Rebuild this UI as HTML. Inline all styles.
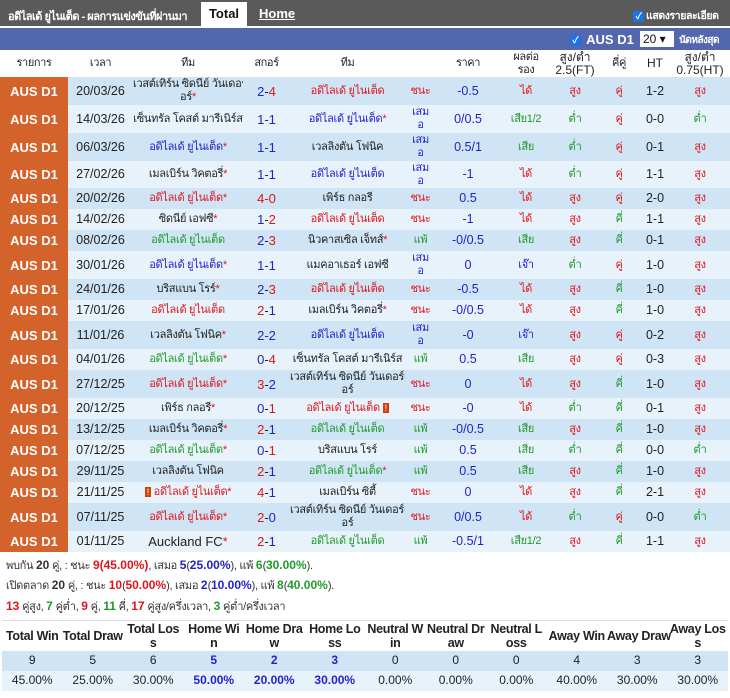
<!DOCTYPE html>
<html><head><meta charset="utf-8"><style>
*{margin:0;padding:0;box-sizing:border-box}
body{width:730px;height:698px;background:#fff;font-family:"Liberation Sans","Noto Sans CJK SC",sans-serif;font-size:12px;position:relative;overflow:hidden;color:#222}
.th{font-size:11px;letter-spacing:-0.4px}
.top{position:absolute;left:0;top:0;width:730px;height:26px;background:#5a5a5a;color:#fff}
.top .t{position:absolute;left:8px;top:7px;font-size:11px;font-weight:bold;letter-spacing:-0.5px;white-space:nowrap}
.tab{position:absolute;left:201px;top:2px;width:46px;height:24px;background:#fff;color:#111;font-weight:bold;font-size:13px;text-align:center;line-height:24px}
.home{position:absolute;left:259px;top:6px;font-weight:bold;font-size:13px;text-decoration:underline;color:#fff}
.chk{display:inline-block;width:11px;height:11px;background:#1a73e8;border-radius:2px;color:#fff;font-size:9px;line-height:11px;text-align:center;vertical-align:middle;margin-right:2px}
.blue{position:absolute;left:0;top:28px;width:730px;height:22px;background:#5367af;color:#fff}
table{position:absolute;left:0;top:50px;width:730px;border-collapse:collapse;table-layout:fixed}
td,th{text-align:center;padding:0;font-weight:normal;line-height:13px;overflow:hidden;white-space:nowrap}
th{height:27px;background:#fff;font-size:12px;color:#222}
td{font-size:11px;letter-spacing:-0.3px}
td.l{background:#d3632b;color:#fff;font-weight:bold;font-size:13px;letter-spacing:0}
tr.a td{background:#cfe4f4}
tr.b td{background:#e8f2fa}
tr.a td.l,tr.b td.l{background:#d3632b}
.r{color:#e0151b}.u{color:#2222cc}.g{color:#1f9a2a}
.s{font-size:13px;letter-spacing:0}
.n{font-size:12.5px;letter-spacing:0}
.lines{position:absolute;left:6px;font-size:11px;color:#333;white-space:nowrap;letter-spacing:-0.3px}
.lines b{font-weight:bold;font-size:12px;letter-spacing:0}
table.st{top:620px;left:2px;width:726px}
table.st th{height:30px;font-weight:bold;font-size:12.5px;line-height:14px;background:#fff;color:#222;border-top:1px solid #ddd;letter-spacing:-0.3px;overflow:visible}
table.st td{height:20px;font-size:12px;letter-spacing:0}
</style></head><body>
<div class="top"><span class="t">อดิไลเด้ ยูไนเต็ด - ผลการแข่งขันที่ผ่านมา</span><div class="tab">Total</div><span class="home">Home</span>
<span style="position:absolute;left:633px;top:7px;font-size:10.5px;font-weight:bold;white-space:nowrap;letter-spacing:-0.4px"><span class="chk">✓</span>แสดงรายละเอียด</span></div>
<div class="blue"><span style="position:absolute;left:570px;top:4px;font-weight:bold;font-size:13px;white-space:nowrap"><span class="chk">✓</span> AUS D1</span>
<span style="position:absolute;left:640px;top:3px;width:34px;height:16px;background:#fff;color:#111;font-size:12px;line-height:16px;padding-left:3px">20 ▾</span>
<span style="position:absolute;left:679px;top:5px;font-size:10px;font-weight:bold;white-space:nowrap;letter-spacing:-0.5px">นัดหลังสุด</span></div>
<table>
<colgroup><col style="width:68px"><col style="width:65px"><col style="width:110px"><col style="width:47px"><col style="width:115px"><col style="width:31px"><col style="width:64px"><col style="width:52px"><col style="width:46px"><col style="width:42px"><col style="width:30px"><col style="width:60px"></colgroup>
<tr><th class="th">รายการ</th><th class="th">เวลา</th><th class="th">ทีม</th><th class="th">สกอร์</th><th class="th">ทีม</th><th></th><th class="th">ราคา</th><th class="th">ผลต่อ<br>รอง</th><th>สูง/ต่ำ<br>2.5(FT)</th><th class="th">คี่คู่</th><th>HT</th><th>สูง/ต่ำ<br>0.75(HT)</th></tr>
<tr class="a" style="height:28px"><td class="l">AUS D1</td><td class="n">20/03/26</td><td>เวสต์เทิร์น ซิดนีย์ วันเดอร์เร<br>อร์<span class="r">*</span></td><td class="s"><span class="u">2</span>-<span class="r">4</span></td><td class="r">อดิไลเด้ ยูไนเต็ด</td><td class="r">ชนะ</td><td class="u n">-0.5</td><td class="r">ได้</td><td class="r">สูง</td><td class="r">คู่</td><td class="n">1-2</td><td class="r">สูง</td></tr>
<tr class="b" style="height:28px"><td class="l">AUS D1</td><td class="n">14/03/26</td><td>เซ็นทรัล โคสต์ มารีเนิร์ส</td><td class="s u">1-1</td><td class="u">อดิไลเด้ ยูไนเต็ด<span class="r">*</span></td><td class="u">เสม<br>อ</td><td class="u n">0/0.5</td><td class="g">เสีย1/2</td><td class="g">ต่ำ</td><td class="r">คู่</td><td class="n">0-0</td><td class="g">ต่ำ</td></tr>
<tr class="a" style="height:28px"><td class="l">AUS D1</td><td class="n">06/03/26</td><td class="u">อดิไลเด้ ยูไนเต็ด<span class="r">*</span></td><td class="s u">1-1</td><td>เวลลิงตัน โฟนิค</td><td class="u">เสม<br>อ</td><td class="u n">0.5/1</td><td class="g">เสีย</td><td class="g">ต่ำ</td><td class="r">คู่</td><td class="n">0-1</td><td class="r">สูง</td></tr>
<tr class="b" style="height:27px"><td class="l">AUS D1</td><td class="n">27/02/26</td><td>เมลเบิร์น วิคตอรี่<span class="r">*</span></td><td class="s u">1-1</td><td class="u">อดิไลเด้ ยูไนเต็ด</td><td class="u">เสม<br>อ</td><td class="u n">-1</td><td class="r">ได้</td><td class="g">ต่ำ</td><td class="r">คู่</td><td class="n">1-1</td><td class="r">สูง</td></tr>
<tr class="a" style="height:21px"><td class="l">AUS D1</td><td class="n">20/02/26</td><td class="r">อดิไลเด้ ยูไนเต็ด*</td><td class="s r">4-0</td><td>เพิร์ธ กลอรี</td><td class="r">ชนะ</td><td class="u n">0.5</td><td class="r">ได้</td><td class="r">สูง</td><td class="r">คู่</td><td class="n">2-0</td><td class="r">สูง</td></tr>
<tr class="b" style="height:21px"><td class="l">AUS D1</td><td class="n">14/02/26</td><td>ซิดนีย์ เอฟซี<span class="r">*</span></td><td class="s"><span class="u">1</span>-<span class="r">2</span></td><td class="r">อดิไลเด้ ยูไนเต็ด</td><td class="r">ชนะ</td><td class="u n">-1</td><td class="r">ได้</td><td class="r">สูง</td><td class="g">คี่</td><td class="n">1-1</td><td class="r">สูง</td></tr>
<tr class="a" style="height:21px"><td class="l">AUS D1</td><td class="n">08/02/26</td><td class="g">อดิไลเด้ ยูไนเต็ด</td><td class="s"><span class="u">2</span>-<span class="r">3</span></td><td>นิวคาสเซิล เจ็ทส์<span class="r">*</span></td><td class="g">แพ้</td><td class="u n">-0/0.5</td><td class="g">เสีย</td><td class="r">สูง</td><td class="g">คี่</td><td class="n">0-1</td><td class="r">สูง</td></tr>
<tr class="b" style="height:28px"><td class="l">AUS D1</td><td class="n">30/01/26</td><td class="u">อดิไลเด้ ยูไนเต็ด<span class="r">*</span></td><td class="s u">1-1</td><td>แมคอาเธอร์ เอฟซี</td><td class="u">เสม<br>อ</td><td class="u n">0</td><td class="u">เจ๊า</td><td class="g">ต่ำ</td><td class="r">คู่</td><td class="n">1-0</td><td class="r">สูง</td></tr>
<tr class="a" style="height:21px"><td class="l">AUS D1</td><td class="n">24/01/26</td><td>บริสแบน โรร์<span class="r">*</span></td><td class="s"><span class="u">2</span>-<span class="r">3</span></td><td class="r">อดิไลเด้ ยูไนเต็ด</td><td class="r">ชนะ</td><td class="u n">-0.5</td><td class="r">ได้</td><td class="r">สูง</td><td class="g">คี่</td><td class="n">1-0</td><td class="r">สูง</td></tr>
<tr class="b" style="height:21px"><td class="l">AUS D1</td><td class="n">17/01/26</td><td class="r">อดิไลเด้ ยูไนเต็ด</td><td class="s"><span class="r">2</span>-<span class="u">1</span></td><td>เมลเบิร์น วิคตอรี่<span class="r">*</span></td><td class="r">ชนะ</td><td class="u n">-0/0.5</td><td class="r">ได้</td><td class="r">สูง</td><td class="g">คี่</td><td class="n">1-0</td><td class="r">สูง</td></tr>
<tr class="a" style="height:28px"><td class="l">AUS D1</td><td class="n">11/01/26</td><td>เวลลิงตัน โฟนิค<span class="r">*</span></td><td class="s u">2-2</td><td class="u">อดิไลเด้ ยูไนเต็ด</td><td class="u">เสม<br>อ</td><td class="u n">-0</td><td class="u">เจ๊า</td><td class="r">สูง</td><td class="r">คู่</td><td class="n">0-2</td><td class="r">สูง</td></tr>
<tr class="b" style="height:21px"><td class="l">AUS D1</td><td class="n">04/01/26</td><td class="g">อดิไลเด้ ยูไนเต็ด<span class="r">*</span></td><td class="s"><span class="u">0</span>-<span class="r">4</span></td><td>เซ็นทรัล โคสต์ มารีเนิร์ส</td><td class="g">แพ้</td><td class="u n">0.5</td><td class="g">เสีย</td><td class="r">สูง</td><td class="r">คู่</td><td class="n">0-3</td><td class="r">สูง</td></tr>
<tr class="a" style="height:28px"><td class="l">AUS D1</td><td class="n">27/12/25</td><td class="r">อดิไลเด้ ยูไนเต็ด*</td><td class="s"><span class="r">3</span>-<span class="u">2</span></td><td>เวสต์เทิร์น ซิดนีย์ วันเดอร์เร<br>อร์</td><td class="r">ชนะ</td><td class="u n">0</td><td class="r">ได้</td><td class="r">สูง</td><td class="g">คี่</td><td class="n">1-0</td><td class="r">สูง</td></tr>
<tr class="b" style="height:21px"><td class="l">AUS D1</td><td class="n">20/12/25</td><td>เพิร์ธ กลอรี<span class="r">*</span></td><td class="s"><span class="u">0</span>-<span class="r">1</span></td><td class="r">อดิไลเด้ ยูไนเต็ด <span style="background:#d0400a;color:#fff;font-size:9px;padding:0 2px">!</span></td><td class="r">ชนะ</td><td class="u n">-0</td><td class="r">ได้</td><td class="g">ต่ำ</td><td class="g">คี่</td><td class="n">0-1</td><td class="r">สูง</td></tr>
<tr class="a" style="height:21px"><td class="l">AUS D1</td><td class="n">13/12/25</td><td>เมลเบิร์น วิคตอรี่<span class="r">*</span></td><td class="s"><span class="r">2</span>-<span class="u">1</span></td><td class="g">อดิไลเด้ ยูไนเต็ด</td><td class="g">แพ้</td><td class="u n">-0/0.5</td><td class="g">เสีย</td><td class="r">สูง</td><td class="g">คี่</td><td class="n">1-0</td><td class="r">สูง</td></tr>
<tr class="b" style="height:21px"><td class="l">AUS D1</td><td class="n">07/12/25</td><td class="g">อดิไลเด้ ยูไนเต็ด<span class="r">*</span></td><td class="s"><span class="u">0</span>-<span class="r">1</span></td><td>บริสแบน โรร์</td><td class="g">แพ้</td><td class="u n">0.5</td><td class="g">เสีย</td><td class="g">ต่ำ</td><td class="g">คี่</td><td class="n">0-0</td><td class="g">ต่ำ</td></tr>
<tr class="a" style="height:21px"><td class="l">AUS D1</td><td class="n">29/11/25</td><td>เวลลิงตัน โฟนิค</td><td class="s"><span class="r">2</span>-<span class="u">1</span></td><td class="g">อดิไลเด้ ยูไนเต็ด<span class="r">*</span></td><td class="g">แพ้</td><td class="u n">0.5</td><td class="g">เสีย</td><td class="r">สูง</td><td class="g">คี่</td><td class="n">1-0</td><td class="r">สูง</td></tr>
<tr class="b" style="height:21px"><td class="l">AUS D1</td><td class="n">21/11/25</td><td class="r"><span style="background:#d0400a;color:#fff;font-size:9px;padding:0 2px">!</span> อดิไลเด้ ยูไนเต็ด*</td><td class="s"><span class="r">4</span>-<span class="u">1</span></td><td>เมลเบิร์น ซิตี้</td><td class="r">ชนะ</td><td class="u n">0</td><td class="r">ได้</td><td class="r">สูง</td><td class="g">คี่</td><td class="n">2-1</td><td class="r">สูง</td></tr>
<tr class="a" style="height:28px"><td class="l">AUS D1</td><td class="n">07/11/25</td><td class="r">อดิไลเด้ ยูไนเต็ด*</td><td class="s"><span class="r">2</span>-<span class="u">0</span></td><td>เวสต์เทิร์น ซิดนีย์ วันเดอร์เร<br>อร์</td><td class="r">ชนะ</td><td class="u n">0/0.5</td><td class="r">ได้</td><td class="g">ต่ำ</td><td class="r">คู่</td><td class="n">0-0</td><td class="g">ต่ำ</td></tr>
<tr class="b" style="height:21px"><td class="l">AUS D1</td><td class="n">01/11/25</td><td class="s">Auckland FC<span class="r">*</span></td><td class="s"><span class="r">2</span>-<span class="u">1</span></td><td class="g">อดิไลเด้ ยูไนเต็ด</td><td class="g">แพ้</td><td class="u n">-0.5/1</td><td class="g">เสีย1/2</td><td class="r">สูง</td><td class="g">คี่</td><td class="n">1-1</td><td class="r">สูง</td></tr>
</table>
<div class="lines" style="top:556px">พบกัน <b>20</b> คู่, : ชนะ <b class="r">9</b><b class="r">(45.00%)</b>, เสมอ <b class="u">5</b>(<b class="u">25.00%</b>), แพ้ <b class="g">6</b>(<b class="g">30.00%</b>).</div>
<div class="lines" style="top:576px">เปิดตลาด <b>20</b> คู่, : ชนะ <b class="r">10</b>(<b class="r">50.00%</b>), เสมอ <b class="u">2</b>(<b class="u">10.00%</b>), แพ้ <b class="g">8</b>(<b class="g">40.00%</b>).</div>
<div class="lines" style="top:597px"><b class="r">13</b> คู่สูง, <b class="g">7</b> คู่ต่ำ, <b class="r">9</b> คู่, <b class="g">11</b> คี่, <b class="r">17</b> คู่สูง/ครึ่งเวลา, <b class="g">3</b> คู่ต่ำ/ครึ่งเวลา</div>
<table class="st">
<tr><th>Total Win</th><th>Total Draw</th><th>Total Los<br>s</th><th>Home Wi<br>n</th><th>Home Dra<br>w</th><th>Home Lo<br>ss</th><th>Neutral W<br>in</th><th>Neutral Dr<br>aw</th><th>Neutral L<br>oss</th><th>Away Win</th><th>Away Draw</th><th>Away Los<br>s</th></tr>
<tr class="a"><td>9</td><td>5</td><td>6</td><td class="u"><b>5</b></td><td class="u"><b>2</b></td><td class="u"><b>3</b></td><td>0</td><td>0</td><td>0</td><td>4</td><td>3</td><td>3</td></tr>
<tr class="b"><td>45.00%</td><td>25.00%</td><td>30.00%</td><td class="u"><b>50.00%</b></td><td class="u"><b>20.00%</b></td><td class="u"><b>30.00%</b></td><td>0.00%</td><td>0.00%</td><td>0.00%</td><td>40.00%</td><td>30.00%</td><td>30.00%</td></tr>
</table>
</body></html>
